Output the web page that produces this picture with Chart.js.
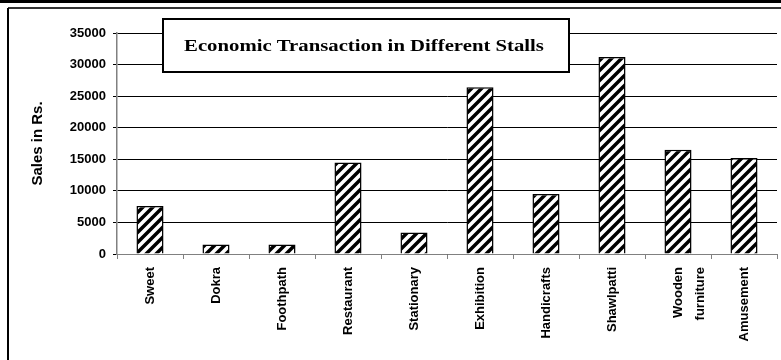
<!DOCTYPE html>
<html>
<head>
<meta charset="utf-8">
<script src="https://cdn.jsdelivr.net/npm/chart.js@4/dist/chart.umd.min.js"></script>
<style>
  html, body { margin: 0; padding: 0; background: #fff; }
  #wrap { width: 781px; height: 360px; }
</style>
</head>
<body>
<div id="wrap"><canvas id="stallChart" width="781" height="360"></canvas></div>
<script>
// data
const stalls = ["Sweet", "Dokra", "Foothpath", "Restaurant", "Stationary", "Exhibition", "Handicrafts", "Shawlpatti", ["Wooden", "furniture"], "Amusement"];
const sales = [7600, 1500, 1500, 14500, 3400, 26400, 9500, 31200, 16500, 15200];
const yTicks = [0, 5000, 10000, 15000, 20000, 25000, 30000, 35000];

const chartTitle = "Economic Transaction in Different Stalls";
const axisTitle = "Sales in Rs.";

function makeHatch() {
  const p = document.createElement("canvas");
  p.width = 10;
  p.height = 10;
  const c = p.getContext("2d");
  c.fillStyle = "#fff";
  c.fillRect(0, 0, 10, 10);
  c.strokeStyle = "#000";
  c.lineWidth = 3.5;
  c.beginPath();
  c.moveTo(-5, 5); c.lineTo(5, -5);
  c.moveTo(0, 10); c.lineTo(10, 0);
  c.moveTo(5, 15); c.lineTo(15, 5);
  c.stroke();
  return c.createPattern(p, "repeat");
}

// outer frame behind the chart, title box on top of the grid
const framePlugin = {
  id: "frame",
  beforeDraw(chart) {
    const ctx = chart.ctx;
    ctx.save();
    ctx.fillStyle = "#000";
    ctx.fillRect(0, 0, chart.width, 3);
    ctx.fillStyle = "#333";
    ctx.fillRect(8, 7, chart.width - 8, 2);
    ctx.fillStyle = "#000";
    ctx.fillRect(7, 8, 2, chart.height - 8);
    ctx.restore();
  },
  afterDraw(chart) {
    const ctx = chart.ctx;
    ctx.save();
    ctx.fillStyle = "#fff";
    ctx.fillRect(163, 19, 406, 53);
    ctx.strokeStyle = "#000";
    ctx.lineWidth = 2;
    ctx.strokeRect(163, 19, 406, 53);
    // the title in the picture is a bit wider than a plain serif, so stretch it
    ctx.translate(364, 47);
    ctx.scale(1.22, 1);
    ctx.fillStyle = "#000";
    ctx.font = "bold 17px 'Liberation Serif', 'Times New Roman', serif";
    ctx.textAlign = "center";
    ctx.textBaseline = "middle";
    ctx.fillText(chartTitle, 0, 0);
    ctx.restore();
  },
};

const sansFamily = "'Liberation Sans', Arial, sans-serif";

const canvas = document.getElementById("stallChart");
new Chart(canvas.getContext("2d"), {
  type: "bar",
  data: {
    labels: stalls,
    datasets: [{
      label: "Sales",
      data: sales,
      backgroundColor: makeHatch(),
      borderColor: "#000",
      borderWidth: 1.5,
      categoryPercentage: 1,
      barPercentage: 0.41,
    }],
  },
  options: {
    responsive: false,
    animation: false,
    layout: { padding: { top: 33, right: 4, left: 0, bottom: 0 } },
    plugins: { legend: { display: false }, tooltip: { enabled: false }, title: { display: false } },
    scales: {
      x: {
        grid: { offset: true, drawOnChartArea: false, drawTicks: true, tickLength: 5, color: "#808080" },
        border: { color: "#808080", width: 1 },
        ticks: { color: "#000", font: { family: sansFamily, size: 13, weight: "bold", lineHeight: 1.7 }, minRotation: 90, maxRotation: 90, padding: 8, autoSkip: false },
        afterFit: (s) => { s.height = 106; },
      },
      y: {
        min: 0,
        max: 35000,
        afterBuildTicks: (s) => { s.ticks = yTicks.map((v) => ({ value: v })); },
        grid: { color: "#000", lineWidth: 1, tickLength: 4 },
        border: { color: "#808080", width: 1.5 },
        ticks: { color: "#000", font: { family: sansFamily, size: 13, weight: "bold" }, padding: 7, callback: (v) => String(v) },
        title: { display: true, text: axisTitle, color: "#000", font: { family: sansFamily, size: 15, weight: "bold" }, padding: { top: 29, bottom: 0 } },
        afterFit: (s) => { s.width = 117; },
      },
    },
  },
  plugins: [framePlugin],
});
</script>
</body>
</html>
